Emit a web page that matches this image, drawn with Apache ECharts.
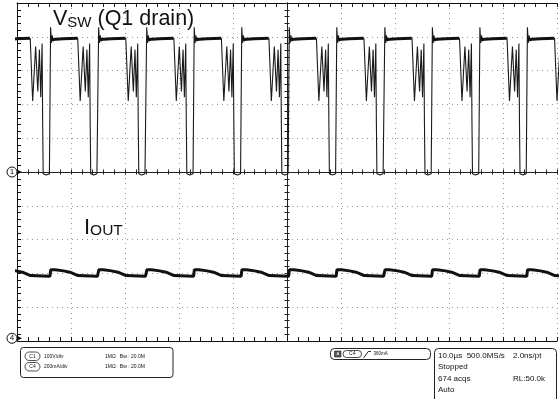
<!DOCTYPE html>
<html><head><meta charset="utf-8">
<script src="https://cdn.jsdelivr.net/npm/echarts@6/dist/echarts.min.js"></script>
<style>html,body{margin:0;padding:0;background:#fff}#c{width:560px;height:399px}</style>
</head><body><div id="c"></div>
<script>
// ---- data ----
// time axis: 10 divisions x 10 us
const timeTicks = [0,10,20,30,40,50,60,70,80,90,100];
// Ch1 (Vsw, 100 V/div, ground at division 5): rising edges (us)
const ch1Rises = [-2.7, 6.1, 15.0, 23.9, 32.7, 41.5, 50.3, 59.1, 68.0, 76.8, 85.6, 94.4];
// one switching cycle measured from its rising edge: time offset (us) and voltage (V)
const ch1CycleT = [0, 0.12, 0.28, 0.42, 0.6, 0.85, 2.5, 4.4, 5.15, 5.6, 6.15, 6.55, 6.85, 7.1, 7.35, 7.45, 7.55, 8.1, 8.4, 8.7];
const ch1CycleV = [-5, 428, 382, 404, 387, 393, 394, 396, 395, 210, 371, 238, 362, 221, 380, 150, -5, -9, -5, -5];
// plateau (thick band) start/end offsets and level
const ch1PlateauT = [0.35, 2.5, 5.1];
const ch1PlateauV = [392, 394, 396];
// Ch4 (Iout, 200 mA/div, ground at division 0): one cycle from the Vsw rising edge
const ch4CycleT = [0, 0.15, 1.0, 2.5, 3.7, 5.2, 8.8];
const ch4CycleV = [384, 422, 421, 415, 407, 387, 383];

const ch1Offset = 5, ch1Scale = 100;   // V per division
const ch4Offset = 0, ch4Scale = 200;   // mA per division

function buildCycles(rises, T, V, off, sc, sep) {
  const out = [];
  rises.forEach(r => {
    T.forEach((t, i) => out.push([r + t, off + V[i] / sc]));
    if (sep) out.push(null);
  });
  return out;
}
const ch1Data = buildCycles(ch1Rises, ch1CycleT, ch1CycleV, ch1Offset, ch1Scale, false);
const ch1Band = buildCycles(ch1Rises, ch1PlateauT, ch1PlateauV, ch1Offset, ch1Scale, true).map(p => p === null ? '-' : p);
const ch4Data = buildCycles(ch1Rises, ch4CycleT, ch4CycleV, ch4Offset, ch4Scale, false);

const FONT = '"Liberation Sans", Arial, sans-serif';
const dotted = {show: true, lineStyle: {color: '#999', type: [1, 4], width: 1}};
const chart = echarts.init(document.getElementById('c'));

const frameX = (pos) => ({
  type: 'value', gridIndex: 0, position: pos, min: 0, max: 100, interval: 10,
  axisLine: {show: true, onZero: false, lineStyle: {color: '#111', width: 1}},
  axisTick: {show: true, inside: true, length: 4, lineStyle: {color: '#111'}},
  minorTick: {show: true, splitNumber: 5, length: 4, lineStyle: {color: '#111'}},
  axisLabel: {show: false}, splitLine: pos === 'bottom' ? dotted : {show: false}
});
const centerX = (inside) => ({
  type: 'value', gridIndex: 1, position: 'bottom', min: -50, max: 50, interval: 10,
  axisLine: {show: true, onZero: true, lineStyle: {color: '#222', width: 1}},
  axisTick: {show: true, inside: inside, length: 2.5, lineStyle: {color: '#222'}},
  minorTick: {show: true, splitNumber: 5, length: 2.5, lineStyle: {color: '#222'}},
  axisLabel: {show: false}, splitLine: {show: false}
});
const centerY = (inside) => ({
  type: 'value', gridIndex: 1, position: 'left', min: -5, max: 5, interval: 1,
  axisLine: {show: true, onZero: true, lineStyle: {color: '#222', width: 1}},
  axisTick: {show: true, inside: inside, length: 2.5, lineStyle: {color: '#222'}},
  minorTick: {show: true, splitNumber: 5, length: 2.5, lineStyle: {color: '#222'}},
  axisLabel: {show: false}, splitLine: {show: false}
});

chart.setOption({
  animation: false,
  backgroundColor: '#fff',
  grid: [
    {left: 17, top: 3, width: 540, height: 338, containLabel: false},
    {left: 17, top: 3, width: 540, height: 338, containLabel: false}
  ],
  xAxis: [frameX('bottom'), frameX('top'), centerX(true), centerX(false)],
  yAxis: [
    {type: 'value', gridIndex: 0, position: 'left', min: 0, max: 10, interval: 1,
     axisLine: {show: true, onZero: false, lineStyle: {color: '#111', width: 1}},
     axisTick: {show: true, inside: true, length: 4, lineStyle: {color: '#111'}},
     minorTick: {show: true, splitNumber: 5, length: 4, lineStyle: {color: '#111'}},
     axisLabel: {show: false}, splitLine: dotted},
    centerY(true), centerY(false)
  ],
  series: [
    {type: 'line', name: 'Iout', xAxisIndex: 0, yAxisIndex: 0, data: ch4Data, showSymbol: false,
     lineStyle: {color: '#111', width: 3}, z: 5},
    {type: 'line', name: 'Vsw', xAxisIndex: 0, yAxisIndex: 0, data: ch1Data, showSymbol: false,
     lineStyle: {color: '#1a1a1a', width: 1.1}, z: 6},
    {type: 'line', name: 'VswBand', xAxisIndex: 0, yAxisIndex: 0, data: ch1Band, showSymbol: false,
     connectNulls: false, lineStyle: {color: '#111', width: 3}, z: 6}
  ]
});

// channel ground markers placed via the axis scale
const p1 = chart.convertToPixel({xAxisIndex: 0, yAxisIndex: 0}, [0, ch1Offset]);
const p4 = chart.convertToPixel({xAxisIndex: 0, yAxisIndex: 0}, [0, ch4Offset + 0.08]);
function marker(label, y) {
  return {type: 'group', children: [
    {type: 'circle', shape: {cx: 12, cy: y, r: 5}, style: {fill: '#fff', stroke: '#111', lineWidth: 1}, z: 20},
    {type: 'text', style: {x: 12, y: y, text: label, font: '8px ' + FONT, fill: '#111', align: 'center', verticalAlign: 'middle'}, z: 21},
    {type: 'polygon', shape: {points: [[17, y - 2.5], [22, y], [17, y + 2.5]]}, style: {fill: '#111'}, z: 20}
  ]};
}
function pill(label, x, y, w, h) {
  return [
    {type: 'rect', shape: {x: x, y: y, width: w, height: h, r: h / 2}, style: {fill: '#fff', stroke: '#222', lineWidth: 0.8}, z: 20},
    {type: 'text', style: {x: x + w / 2, y: y + h / 2, text: label, font: '5px ' + FONT, fill: '#222', align: 'center', verticalAlign: 'middle'}, z: 21}
  ];
}
function txt(s, x, y, size, extra) {
  return Object.assign({type: 'text', style: {x: x, y: y, text: s, font: size + 'px ' + FONT, fill: '#111', verticalAlign: 'middle'}, z: 21}, extra || {});
}

chart.setOption({graphic: [
  marker('1', p1[1]),
  marker('4', p4[1]),
  // trace labels
  {type: 'text', left: 53, top: 8, z: 30, style: {
    text: '{a|V}{b|SW}{a| (Q1 drain)}', fill: '#111',
    rich: {a: {fontSize: 21.5, fontFamily: FONT, verticalAlign: 'bottom', lineHeight: 22},
           b: {fontSize: 15, fontFamily: FONT, verticalAlign: 'bottom', lineHeight: 22}}}},
  {type: 'text', left: 84, top: 217, z: 30, style: {
    text: '{a|I}{b|OUT}', fill: '#111',
    rich: {a: {fontSize: 22, fontFamily: FONT, verticalAlign: 'bottom', lineHeight: 20},
           b: {fontSize: 15.5, fontFamily: FONT, verticalAlign: 'bottom', lineHeight: 20}}}},
  // channel settings box
  {type: 'rect', shape: {x: 20.5, y: 347.5, width: 152.5, height: 30, r: 3}, style: {fill: '#fff', stroke: '#222', lineWidth: 1}, z: 19},
  ...pill('C1', 25, 352, 15, 8.5),
  ...pill('C4', 25, 362.5, 15, 8.5),
  txt('100V/div', 44, 356.3, 5),
  txt('200mA/div', 44, 366.8, 5),
  txt('1MΩ   Bw : 20.0M', 105, 356.3, 5),
  txt('1MΩ   Bw : 20.0M', 105, 366.8, 5),
  // trigger box
  {type: 'rect', shape: {x: 330.5, y: 348.5, width: 100, height: 11, r: 4}, style: {fill: '#fff', stroke: '#222', lineWidth: 1}, z: 19},
  {type: 'rect', shape: {x: 334.5, y: 351, width: 6.5, height: 6}, style: {fill: '#555', stroke: '#222', lineWidth: 0.6}, z: 20},
  {type: 'text', style: {x: 337.8, y: 354, text: 'A', font: '4px ' + FONT, fill: '#fff', align: 'center', verticalAlign: 'middle'}, z: 21},
  ...pill('C4', 343, 350.5, 18.5, 7),
  {type: 'polyline', shape: {points: [[363.5, 358], [368.3, 351.5], [371, 351.5]]}, style: {stroke: '#111', lineWidth: 0.9, fill: null}, z: 21},
  txt('360mA', 373.5, 354, 4.5),
  // timebase box
  {type: 'rect', shape: {x: 434.5, y: 348.5, width: 122, height: 56, r: 4}, style: {fill: '#fff', stroke: '#222', lineWidth: 1}, z: 19},
  txt('10.0µs  500.0MS/s', 438, 355.8, 8),
  txt('2.0ns/pt', 513, 355.8, 8),
  txt('Stopped', 438, 367.2, 8),
  txt('674 acqs', 438, 378.5, 8),
  txt('RL:50.0k', 513, 378.5, 8),
  txt('Auto', 438, 390, 8)
]});
</script></body></html>
